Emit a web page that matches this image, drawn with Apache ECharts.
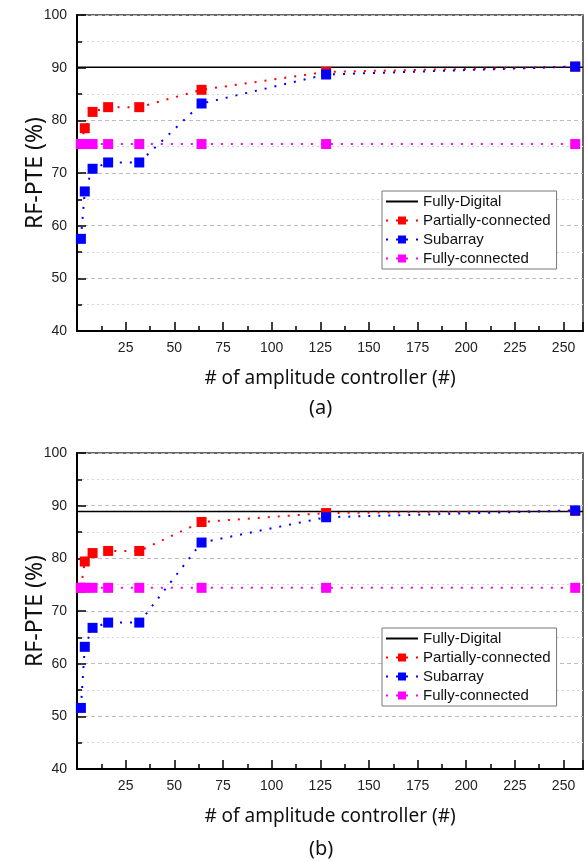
<!DOCTYPE html>
<html>
<head>
<meta charset="utf-8">
<script src="https://cdn.jsdelivr.net/npm/echarts@6/dist/echarts.min.js"></script>
<style>
  html, body { margin: 0; padding: 0; background: #fff; }
  #chart { width: 587px; height: 861px; }
</style>
</head>
<body>
<div id="chart"></div>
<script>
// number of amplitude controllers
const xVals = [2, 4, 8, 16, 32, 64, 128, 256]
const seriesNames = ['Fully-Digital', 'Partially-connected', 'Subarray', 'Fully-connected']
const panelLabels = ['(a)', '(b)']

// panel (a)
const digitalA = 90.1
const partialA = [75.5, 78.5, 81.6, 82.5, 82.5, 85.8, 89.2, 90.2]
const subarrayA = [57.5, 66.5, 70.8, 72.0, 72.0, 83.2, 88.7, 90.2]
const fullA = [75.5, 75.5, 75.5, 75.5, 75.5, 75.5, 75.5, 75.5]

// panel (b)
const digitalB = 88.9
const partialB = [74.4, 79.4, 81.0, 81.4, 81.4, 86.9, 88.6, 89.0]
const subarrayB = [51.6, 63.2, 66.8, 67.8, 67.8, 83.0, 87.8, 89.1]
const fullB = [74.4, 74.4, 74.4, 74.4, 74.4, 74.4, 74.4, 74.4]

const xMin = 0
const xMax = 260

const labelFont = 'Liberation Sans, Arial, sans-serif'
const nameFont = 'Noto Sans, Liberation Sans, sans-serif'
const colors = ['#000000', '#ff0000', '#0000ff', '#ff00ff']

const pairs = (ys) => xVals.map((x, i) => [x, ys[i]])

function xAxisFor (gi) {
  return {
    gridIndex: gi,
    type: 'value',
    min: xMin,
    max: xMax,
    interval: 25,
    name: '# of amplitude controller (#)',
    nameLocation: 'middle',
    nameGap: 38,
    nameMoveOverlap: false,
    nameTextStyle: { fontFamily: nameFont, fontSize: 19, color: '#111' },
    axisLine: { show: true, lineStyle: { color: '#000', width: 2 } },
    axisTick: { show: true, inside: true, length: 9, lineStyle: { color: '#000', width: 1.5 } },
    minorTick: { show: true, splitNumber: 2, length: 5, lineStyle: { color: '#000', width: 1.5 } },
    axisLabel: {
      showMinLabel: false,
      showMaxLabel: false,
      margin: 10,
      color: '#222',
      fontFamily: labelFont,
      fontSize: 14
    },
    splitLine: { show: false }
  }
}

function yAxisFor (gi) {
  return {
    gridIndex: gi,
    type: 'value',
    min: 40,
    max: 100,
    interval: 10,
    name: 'RF-PTE (%)',
    nameLocation: 'middle',
    nameGap: 30,
    nameMoveOverlap: false,
    nameTextStyle: { fontFamily: nameFont, fontSize: 23, color: '#111' },
    axisLine: { show: true, lineStyle: { color: '#000', width: 2 } },
    axisTick: { show: true, inside: true, length: 9, lineStyle: { color: '#000', width: 1.5 } },
    minorTick: { show: true, splitNumber: 2, length: 5, lineStyle: { color: '#000', width: 1.5 } },
    axisLabel: { margin: 10, color: '#222', fontFamily: labelFont, fontSize: 14 },
    splitLine: { show: true, lineStyle: { color: '#bdbdbd', type: [4, 3], width: 1 } },
    minorSplitLine: { show: true, lineStyle: { color: '#d6d6d6', type: [2, 3], width: 1 } }
  }
}

function panelSeries (gi, digital, partial, subarray, full) {
  const dotted = (c) => ({ color: c, width: 2, type: [2, 8] })
  return [
    {
      name: seriesNames[0],
      type: 'line',
      xAxisIndex: gi,
      yAxisIndex: gi,
      symbol: 'none',
      lineStyle: { color: colors[0], width: 1.5 },
      itemStyle: { color: colors[0] },
      data: [[xMin, digital], [xMax, digital]]
    },
    {
      name: seriesNames[1],
      type: 'line',
      xAxisIndex: gi,
      yAxisIndex: gi,
      symbol: 'rect',
      symbolSize: 10,
      lineStyle: dotted(colors[1]),
      itemStyle: { color: colors[1] },
      data: pairs(partial)
    },
    {
      name: seriesNames[2],
      type: 'line',
      xAxisIndex: gi,
      yAxisIndex: gi,
      symbol: 'rect',
      symbolSize: 10,
      lineStyle: dotted(colors[2]),
      itemStyle: { color: colors[2] },
      data: pairs(subarray)
    },
    {
      name: seriesNames[3],
      type: 'line',
      xAxisIndex: gi,
      yAxisIndex: gi,
      symbol: 'rect',
      symbolSize: 10,
      lineStyle: dotted(colors[3]),
      itemStyle: { color: colors[3] },
      data: pairs(full)
    }
  ]
}

function legendAt (top) {
  return {
    data: [
      { name: seriesNames[0], itemStyle: { opacity: 0 } },
      seriesNames[1],
      seriesNames[2],
      seriesNames[3]
    ],
    orient: 'vertical',
    left: 382,
    top: top,
    backgroundColor: '#fff',
    borderColor: '#777',
    borderWidth: 1,
    borderRadius: 0,
    padding: [3, 6, 3, 3],
    itemWidth: 32,
    itemHeight: 10,
    itemGap: 4,
    selectedMode: false,
    textStyle: { fontFamily: labelFont, fontSize: 15, color: '#111' }
  }
}

const chart = echarts.init(document.getElementById('chart'))

const option = {
  animation: false,
  backgroundColor: '#fff',
  grid: [
    { left: 77, right: 4, top: 15, height: 316, show: true, borderColor: '#333', borderWidth: 1.5, backgroundColor: 'transparent' },
    { left: 77, right: 4, top: 453, height: 316, show: true, borderColor: '#333', borderWidth: 1.5, backgroundColor: 'transparent' }
  ],
  legend: [legendAt(191), legendAt(628)],
  xAxis: [xAxisFor(0), xAxisFor(1)],
  yAxis: [yAxisFor(0), yAxisFor(1)],
  graphic: [
    { type: 'text', left: 309, top: 398, style: { text: panelLabels[0], font: '20px ' + nameFont, fill: '#111' } },
    { type: 'text', left: 309, top: 839, style: { text: panelLabels[1], font: '20px ' + nameFont, fill: '#111' } }
  ],
  series: [
    ...panelSeries(0, digitalA, partialA, subarrayA, fullA),
    ...panelSeries(1, digitalB, partialB, subarrayB, fullB)
  ]
}

chart.setOption(option)
</script>
</body>
</html>
